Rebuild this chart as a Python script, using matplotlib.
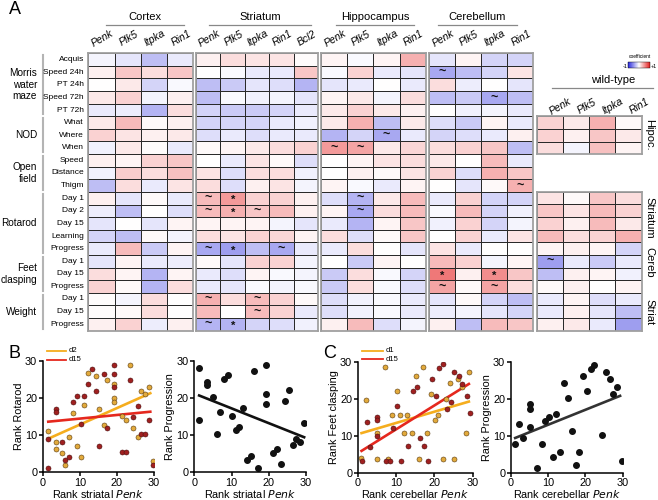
import numpy as np
import matplotlib.pyplot as plt
from matplotlib.colors import LinearSegmentedColormap

plt.rcParams['font.family'] = ['Liberation Sans', 'DejaVu Sans']

# ---------------- heatmap data (coefficients) ----------------
row_labels = ['Acquis', 'Speed 24h', 'PT 24h', 'Speed 72h', 'PT 72h',
              'What', 'Where', 'When', 'Speed', 'Distance', 'Thigm',
              'Day 1', 'Day 2', 'Day 15', 'Learning', 'Progress',
              'Day 1', 'Day 15', 'Progress', 'Day 1', 'Day 15', 'Progress']
row_groups = [('Morris\nwater\nmaze', 0, 5), ('NOD', 5, 8), ('Open\nfield', 8, 11),
              ('Rotarod', 11, 16), ('Feet\nclasping', 16, 19), ('Weight', 19, 22)]
genes4 = ['Penk', 'Plk5', 'Itpka', 'Rin1']
genes5 = ['Penk', 'Plk5', 'Itpka', 'Rin1', 'Bcl2']

cortex = [[-0.05, -0.12, -0.30, -0.10], [0.07, 0.25, 0.15, 0.25], [0.00, 0.10, -0.20, -0.03],
          [0.10, 0.20, -0.05, 0.07], [-0.10, -0.08, -0.35, 0.15], [0.10, 0.30, 0.03, 0.07],
          [0.20, 0.12, 0.07, 0.10], [-0.07, 0.10, 0.02, -0.10], [0.07, 0.05, 0.20, 0.25],
          [-0.07, 0.22, 0.15, 0.28], [-0.30, 0.15, -0.10, 0.12], [0.07, -0.12, 0.03, -0.10],
          [-0.08, -0.30, 0.00, -0.15], [-0.12, 0.00, -0.12, 0.05], [-0.20, -0.30, 0.03, -0.05],
          [-0.10, 0.30, -0.25, 0.05], [-0.12, 0.05, -0.10, -0.08], [0.15, 0.05, -0.35, 0.05],
          [0.20, 0.03, -0.35, 0.15], [0.02, -0.05, 0.15, 0.00], [0.02, 0.03, 0.15, 0.00],
          [0.07, 0.20, -0.08, 0.07]]
striatum = [[0.07, 0.15, 0.12, 0.12, 0.02], [0.00, -0.03, -0.10, -0.10, 0.25],
            [-0.30, -0.25, -0.12, -0.15, -0.35], [-0.30, -0.03, -0.07, -0.05, -0.12],
            [-0.20, -0.25, -0.25, -0.20, -0.10], [-0.20, -0.20, -0.20, -0.10, -0.07],
            [-0.15, -0.10, -0.15, -0.10, -0.10], [0.03, 0.05, 0.10, 0.15, 0.20],
            [0.00, -0.10, 0.12, 0.03, -0.15], [0.12, -0.15, 0.15, 0.15, -0.07],
            [0.15, -0.15, 0.07, 0.12, -0.05], [0.30, 0.45, 0.20, 0.20, 0.07],
            [0.30, 0.35, 0.25, 0.30, 0.07], [0.05, 0.05, 0.05, -0.05, -0.12],
            [0.15, 0.12, 0.20, 0.18, 0.05], [-0.40, -0.45, -0.30, -0.40, -0.10],
            [0.03, -0.12, 0.20, 0.20, -0.05], [-0.10, -0.15, 0.05, -0.03, -0.05],
            [-0.10, -0.12, -0.03, -0.05, -0.03], [0.35, 0.15, 0.30, 0.20, 0.03],
            [0.30, 0.00, 0.30, 0.20, -0.10], [-0.35, -0.35, -0.20, -0.15, -0.07]]
hippocampus = [[0.05, -0.03, 0.05, 0.35], [-0.03, 0.20, -0.10, -0.12], [-0.12, -0.10, 0.00, -0.10],
               [0.05, 0.10, -0.05, 0.15], [0.10, 0.20, 0.10, 0.07], [0.10, 0.35, -0.30, 0.10],
               [-0.35, -0.20, -0.40, -0.10], [0.45, 0.40, 0.10, 0.18], [0.00, 0.05, 0.12, 0.15],
               [0.00, 0.07, 0.03, 0.12], [0.05, -0.03, -0.10, 0.05], [-0.15, -0.35, 0.10, 0.30],
               [0.05, -0.40, 0.15, 0.30], [-0.10, -0.35, 0.05, 0.25], [0.15, -0.15, 0.03, 0.25],
               [-0.10, 0.15, 0.00, -0.12], [0.00, -0.25, 0.05, 0.00], [-0.25, 0.15, -0.03, -0.20],
               [-0.25, 0.15, -0.03, -0.15], [-0.15, -0.07, -0.03, -0.10], [-0.15, -0.07, -0.03, -0.10],
               [0.07, 0.30, -0.15, -0.05]]
cerebellum = [[-0.12, 0.05, -0.20, -0.20], [-0.40, -0.30, -0.20, 0.12], [0.15, -0.08, 0.00, -0.12],
              [-0.30, -0.25, -0.40, -0.30], [0.00, -0.07, -0.05, -0.10], [-0.15, -0.25, 0.05, -0.10],
              [-0.20, -0.15, -0.10, 0.07], [0.15, 0.20, 0.25, -0.30], [0.10, 0.00, 0.30, -0.10],
              [0.20, -0.15, 0.35, 0.25], [0.00, -0.12, 0.03, 0.35], [-0.10, 0.20, -0.20, -0.20],
              [-0.03, 0.30, -0.20, -0.07], [-0.07, 0.20, -0.20, -0.05], [0.00, 0.20, -0.10, 0.12],
              [0.12, -0.10, 0.00, 0.00], [0.30, 0.20, -0.05, 0.05], [0.60, 0.07, 0.50, 0.25],
              [0.40, 0.03, 0.40, 0.15], [-0.12, 0.03, -0.20, -0.30], [-0.08, -0.05, -0.12, -0.20],
              [0.07, -0.30, 0.30, 0.25]]
# wild-type: hippocampus vs NOD rows, and rows Rotarod Day 1 .. Weight Progress
wt_hipp = [[0.20, 0.10, 0.35, 0.03], [0.20, 0.07, 0.25, 0.10], [0.15, -0.05, 0.28, 0.05]]
wt_low = [[0.12, 0.03, 0.25, 0.15], [0.25, 0.12, 0.30, 0.20], [0.20, 0.07, 0.30, 0.10],
          [0.30, 0.15, 0.20, 0.35], [0.05, 0.07, 0.05, -0.20], [-0.45, -0.10, -0.25, -0.10],
          [-0.30, 0.07, 0.05, -0.07], [0.03, 0.07, 0.00, 0.05], [-0.10, 0.05, -0.15, -0.10],
          [-0.10, 0.07, -0.12, -0.30], [0.07, 0.10, -0.10, -0.45]]
wt_side = [('Hipoc.', 135), ('Striatum', 218), ('Cereb', 262), ('Striat', 312)]

striatum_marks = [(11, 0, '~'), (11, 1, '*'), (12, 0, '~'), (12, 1, '*'), (12, 2, '~'),
                  (15, 0, '~'), (15, 1, '*'), (15, 3, '~'), (19, 0, '~'), (19, 2, '~'),
                  (20, 2, '~'), (21, 0, '~'), (21, 1, '*')]
hippo_marks = [(6, 2, '~'), (7, 0, '~'), (7, 1, '~'), (11, 1, '~'), (12, 1, '~')]
cereb_marks = [(1, 0, '~'), (3, 2, '~'), (10, 3, '~'), (17, 0, '*'), (17, 2, '*'),
               (18, 0, '~'), (18, 2, '~')]
wt_marks = [(5, 0, '~')]

# ---------------- scatter data (ranks) ----------------
b_d2_x = [1.5, 3.5, 3.5, 5.1, 6.0, 7.1, 8.1, 9.2, 10.2, 11.2, 12.2, 14.3, 15.3, 16.4, 17.2,
          19.2, 19.2, 19.2, 21.3, 22.5, 23.5, 24.4, 25.6, 26.5, 27.6, 28.7, 29.6]
b_d2_y = [11.1, 8.1, 6.1, 5.1, 2.0, 9.5, 16.0, 7.0, 4.1, 18.1, 26.8, 26.0, 17.0, 12.8, 25.0,
          23.9, 19.9, 19.0, 15.1, 14.0, 28.9, 11.9, 9.5, 21.9, 21.0, 22.9, 3.0]
b_d15_x = [1.5, 1.5, 3.5, 3.5, 5.1, 6.0, 7.1, 8.1, 9.2, 10.2, 11.2, 12.2, 13.2, 14.3, 15.3,
           16.4, 17.2, 19.2, 19.2, 19.2, 21.3, 22.5, 23.5, 24.4, 25.6, 26.5, 27.6, 28.7, 29.6]
b_d15_y = [9.0, 1.2, 17.0, 16.1, 8.1, 3.2, 4.1, 19.0, 20.5, 13.1, 20.5, 23.9, 27.8, 21.9, 7.0,
           26.5, 12.0, 28.9, 26.4, 23.0, 5.4, 5.4, 24.8, 14.9, 17.9, 10.4, 10.4, 14.0, 2.0]
b_prog_x = [1.3, 1.3, 3.5, 3.5, 5.1, 6.0, 6.9, 8.1, 9.1, 10.0, 11.2, 12.1, 13.2, 14.2, 15.1,
            16.1, 17.2, 19.2, 19.2, 19.2, 21.2, 22.3, 23.3, 24.3, 25.3, 26.4, 27.3, 28.4, 29.5]
b_prog_y = [28.1, 14.1, 24.3, 23.6, 20.3, 10.4, 16.2, 25.2, 26.1, 15.1, 11.3, 12.2, 17.3, 3.3,
            4.2, 27.2, 1.2, 29.0, 21.0, 18.3, 5.1, 6.2, 2.1, 19.2, 22.1, 7.2, 9.0, 8.1, 13.2]
c_d1_x = [0.9, 2.1, 5.1, 5.1, 7.1, 8.0, 9.0, 10.2, 11.0, 12.1, 12.9, 14.1, 15.1, 16.1, 17.1,
          18.0, 19.1, 20.2, 21.0, 22.2, 23.0, 24.1, 25.1, 26.1, 27.1, 28.2, 29.1]
c_d1_y = [3.9, 19.6, 10.6, 3.6, 28.6, 3.6, 15.6, 22.2, 15.6, 10.6, 15.6, 10.6, 26.2, 3.6, 28.6,
          10.6, 21.2, 14.2, 15.6, 3.6, 19.8, 24.3, 3.6, 25.2, 23.2, 10.6, 27.1]
c_d15_x = [1.0, 2.3, 3.2, 5.1, 5.1, 5.1, 7.4, 8.3, 9.3, 10.3, 11.3, 13.2, 14.3, 15.4, 16.3,
           17.4, 18.3, 19.3, 20.3, 21.3, 22.3, 23.2, 24.3, 25.2, 26.3, 27.1, 28.4, 29.3]
c_d15_y = [3.2, 13.6, 7.0, 15.0, 14.2, 9.9, 3.2, 3.2, 12.2, 18.0, 3.2, 7.2, 22.1, 23.2, 9.3,
           7.2, 3.2, 25.2, 20.7, 28.2, 29.3, 17.1, 19.2, 27.1, 26.1, 24.1, 20.7, 16.2]
c_prog_x = [1.2, 2.2, 3.2, 5.2, 5.2, 5.2, 7.1, 8.3, 9.2, 10.3, 11.4, 12.1, 13.2, 14.4, 15.3,
            16.3, 17.4, 18.4, 19.3, 20.4, 21.4, 22.3, 24.4, 25.4, 26.6, 27.5, 28.6, 29.7]
c_prog_y = [7.7, 13.2, 9.3, 18.6, 17.2, 12.3, 1.2, 7.7, 14.1, 15.0, 4.3, 16.0, 5.7, 24.3, 20.1,
            11.3, 2.1, 5.7, 26.2, 22.1, 28.0, 29.1, 10.2, 27.1, 25.2, 21.2, 23.2, 3.2]
# regression lines: (intercept, slope, x from, x to)
b_fit_d2 = (8.33, 0.447, 1.5, 29.0)
b_fit_d15 = (13.45, 0.098, 1.5, 29.0)
b_fit_prog = (21.2, -0.40, 1.3, 29.5)
c_fit_d1 = (10.4, 0.304, 1.0, 29.0)
c_fit_d15 = (5.25, 0.646, 1.0, 29.0)
c_fit_prog = (8.9, 0.405, 1.2, 29.3)

W, H = 658, 500
fig = plt.figure(figsize=(W / 100, H / 100), dpi=100)
cmap = LinearSegmentedColormap.from_list('bwr2', ['#2828dc', '#ffffff', '#e41e1e'])


def axes_px(x0, y0, x1, y1):
    return fig.add_axes([x0 / W, 1 - y1 / H, (x1 - x0) / W, (y1 - y0) / H])


def heat(ax, vals, marks):
    vals = np.array(vals)
    ax.pcolormesh(vals, cmap=cmap, vmin=-1, vmax=1, edgecolors='#2a2a2a', linewidth=0.5)
    ax.set_ylim(vals.shape[0], 0)
    ax.set_xlim(0, vals.shape[1])
    ax.set_xticks([])
    ax.set_yticks([])
    for s in ax.spines.values():
        s.set_edgecolor('#a0a0a0')
        s.set_linewidth(1.3)
    for r, c, m in marks:
        if m == '~':
            ax.text(c + 0.5, r + 0.5, m, ha='center', va='center', fontsize=9,
                    fontweight='bold', color='#111111')
        else:
            ax.text(c + 0.5, r + 0.65, m, ha='center', va='center', fontsize=8,
                    fontweight='bold', color='#111111')


# overlay in pixel coordinates for labels and brackets
ov = fig.add_axes([0, 0, 1, 1])
ov.set_xlim(0, W)
ov.set_ylim(H, 0)
ov.axis('off')

top, rh = 53.3, 12.6
blocks = [('Cortex', cortex, [], genes4, 88.3, 193.3, (106, 184)),
          ('Striatum', striatum, striatum_marks, genes5, 196.0, 318.3, (209, 311)),
          ('Hippocampus', hippocampus, hippo_marks, genes4, 320.8, 426.0, (336, 414)),
          ('Cerebellum', cerebellum, cereb_marks, genes4, 429.3, 533.3, (438, 517))]
for name, vals, marks, genes, x0, x1, (l0, l1) in blocks:
    ax = axes_px(x0, top, x1, top + rh * len(vals))
    heat(ax, vals, marks)
    ov.text((l0 + l1) / 2, 17, name, ha='center', va='center', fontsize=8)
    ov.plot([l0, l1], [24.5, 24.5], color='#888888', lw=0.9)
    cw = (x1 - x0) / len(genes)
    for i, g in enumerate(genes):
        ov.text(x0 + cw * (i + 0.5) + 1, 38, g, rotation=30, ha='center', va='center',
                fontsize=7.5, style='italic')

# wild-type blocks
wx0, wx1 = 536.7, 641.7
ax = axes_px(wx0, top + 5 * rh, wx1, top + 8 * rh)
heat(ax, wt_hipp, [])
ax = axes_px(wx0, top + 11 * rh, wx1, top + 22 * rh)
heat(ax, wt_low, wt_marks)
ov.text(613, 80, 'wild-type', ha='center', va='center', fontsize=8)
ov.plot([552, 653], [87.5, 87.5], color='#888888', lw=0.9)
for i, g in enumerate(genes4):
    ov.text(wx0 + 26.25 * (i + 0.5) + 11, 106, g, rotation=30, ha='center', va='center',
            fontsize=7.5, style='italic')
for lab, y in wt_side:
    ov.text(649, y, lab, rotation=-90, ha='center', va='center', fontsize=8)

# row labels and group brackets
for i, lab in enumerate(row_labels):
    ov.text(84, top + rh * (i + 0.5), lab, ha='right', va='center', fontsize=6)
for lab, r0, r1 in row_groups:
    ov.text(37, top + rh * (r0 + r1) / 2, lab, ha='right', va='center', fontsize=7.2,
            linespacing=1.2)
    ov.plot([43, 43], [top + rh * r0 + 2, top + rh * r1 - 2], color='#b4b4b4', lw=1.5)

# colorbar
cax = axes_px(628, 62, 650, 68)
cb = fig.colorbar(plt.cm.ScalarMappable(cmap=cmap, norm=plt.Normalize(-1, 1)), cax=cax,
                  orientation='horizontal')
cb.set_ticks([])
cb.outline.set_linewidth(0.3)
ov.text(640, 57, 'coefficient', ha='center', va='center', fontsize=3.5)
ov.text(625, 66, '-1', ha='center', va='center', fontsize=4)
ov.text(654, 66, '+1', ha='center', va='center', fontsize=4)

ov.text(15, 10, 'A', ha='center', va='center', fontsize=13)
ov.text(14, 354, 'B', ha='center', va='center', fontsize=13)
ov.text(330, 354, 'C', ha='center', va='center', fontsize=13)


# ---------------- scatter panels ----------------
def style(ax, ylabel, xlabel):
    ax.set_xlim(0, 30)
    ax.set_ylim(0, 30)
    ax.set_xticks([0, 10, 20, 30])
    ax.set_yticks([0, 10, 20, 30])
    ax.spines['top'].set_visible(False)
    ax.spines['right'].set_visible(False)
    for s in ('left', 'bottom'):
        ax.spines[s].set_linewidth(1.1)
    ax.tick_params(labelsize=7.8, width=1.1, length=3, pad=1)
    ax.set_ylabel(ylabel, fontsize=7.8, labelpad=1)
    ax.set_xlabel(xlabel, fontsize=7.8, labelpad=0)


def fit(ax, params, color):
    a, b, xa, xb = params
    xs = np.array([xa, xb])
    ax.plot(xs, a + b * xs, color=color, lw=1.9, zorder=1)


gold, dred = '#e2aa3c', '#a02020'
ax = axes_px(42.7, 361, 154, 472)
ax.scatter(b_d2_x, b_d2_y, s=13, c=gold, edgecolors='#5a3c10', linewidths=0.4, zorder=2)
ax.scatter(b_d15_x, b_d15_y, s=13, c=dred, edgecolors='#4a1010', linewidths=0.4, zorder=2)
fit(ax, b_fit_d2, '#f5ad1e')
fit(ax, b_fit_d15, '#e5281e')
style(ax, 'Rank Rotarod', 'Rank striatal $\\it{Penk}$')
ax.plot([1.2, 6.2], [32.8, 32.8], color='#f5ad1e', lw=1.3, clip_on=False)
ax.plot([1.2, 6.2], [30.4, 30.4], color='#e5281e', lw=1.3, clip_on=False)
ax.text(7.0, 32.8, 'd2', fontsize=5.5, va='center', clip_on=False)
ax.text(7.0, 30.4, 'd15', fontsize=5.5, va='center', clip_on=False)

ax = axes_px(194.3, 361, 306, 472)
ax.scatter(b_prog_x, b_prog_y, s=16, c='#111111', zorder=2)
fit(ax, b_fit_prog, '#111111')
style(ax, 'Rank Progression', 'Rank striatal $\\it{Penk}$')

ax = axes_px(357.7, 361.7, 472.7, 472.7)
ax.scatter(c_d1_x, c_d1_y, s=13, c=gold, edgecolors='#5a3c10', linewidths=0.4, zorder=2)
ax.scatter(c_d15_x, c_d15_y, s=13, c=dred, edgecolors='#4a1010', linewidths=0.4, zorder=2)
fit(ax, c_fit_d1, '#f5ad1e')
fit(ax, c_fit_d15, '#e5281e')
style(ax, 'Rank Feet clasping', 'Rank cerebellar $\\it{Penk}$')
ax.plot([1.0, 6.6], [33.0, 33.0], color='#f5ad1e', lw=1.3, clip_on=False)
ax.plot([1.0, 6.6], [30.6, 30.6], color='#e5281e', lw=1.3, clip_on=False)
ax.text(7.3, 33.0, 'd1', fontsize=5.5, va='center', clip_on=False)
ax.text(7.3, 30.6, 'd15', fontsize=5.5, va='center', clip_on=False)

ax = axes_px(510.7, 361.7, 622.7, 472.7)
ax.scatter(c_prog_x, c_prog_y, s=16, c='#111111', zorder=2)
fit(ax, c_fit_prog, '#333333')
style(ax, 'Rank Progression', 'Rank cerebellar $\\it{Penk}$')

fig.savefig('out.png', dpi=100)
